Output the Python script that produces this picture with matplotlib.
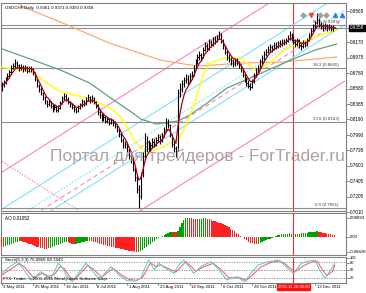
import numpy as np
import pandas as pd
import matplotlib
matplotlib.use("Agg")
import matplotlib.pyplot as plt

plt.rcParams['font.family'] = ['Liberation Sans', 'DejaVu Sans']

# daily USDCHF bars, bar 0 = 3 May 2011
close = [0.8625, 0.8660, 0.8705, 0.8740, 0.8790, 0.8850, 0.8870, 0.8905, 0.8880, 0.8845,
         0.8860, 0.8830, 0.8855, 0.8810, 0.8845, 0.8830, 0.8790, 0.8700, 0.8620, 0.8580,
         0.8520, 0.8470, 0.8420, 0.8385, 0.8410, 0.8360, 0.8330, 0.8350, 0.8310, 0.8340,
         0.8400, 0.8460, 0.8490, 0.8450, 0.8410, 0.8380, 0.8350, 0.8320, 0.8300, 0.8340,
         0.8370, 0.8420, 0.8390, 0.8440, 0.8470, 0.8430, 0.8460, 0.8410, 0.8360, 0.8280,
         0.8250, 0.8200, 0.8220, 0.8170, 0.8190, 0.8150, 0.8180, 0.8140, 0.8110, 0.8060,
         0.8000, 0.7930, 0.7870, 0.7880, 0.7800, 0.7720, 0.7680, 0.7560, 0.7450, 0.7300,
         0.7220, 0.7480, 0.7720, 0.7850, 0.7900, 0.7820, 0.7860, 0.7900, 0.7870, 0.7930,
         0.7960, 0.7920, 0.7990, 0.8050, 0.8150, 0.8120, 0.8000, 0.7880, 0.7820, 0.7790,
         0.8530, 0.8580, 0.8640, 0.8690, 0.8710, 0.8680, 0.8740, 0.8760, 0.8850, 0.8920,
         0.8980, 0.9010, 0.8990, 0.9080, 0.9130, 0.9100, 0.9180, 0.9150, 0.9210, 0.9190,
         0.9240, 0.9270, 0.9190, 0.9120, 0.9050, 0.8990, 0.8960, 0.8930, 0.8900, 0.8940,
         0.8910, 0.8880, 0.8820, 0.8760, 0.8700, 0.8660, 0.8620, 0.8600, 0.8680, 0.8750,
         0.8800, 0.8850, 0.8930, 0.8970, 0.9020, 0.9050, 0.9080, 0.9110, 0.9090, 0.9140,
         0.9120, 0.9160, 0.9150, 0.9190, 0.9170, 0.9200, 0.9220, 0.9270, 0.9220, 0.9180,
         0.9150, 0.9200, 0.9140, 0.9120, 0.9170, 0.9140, 0.9200, 0.9260, 0.9320, 0.9380,
         0.9420, 0.9460, 0.9400, 0.9380, 0.9360, 0.9390, 0.9350, 0.9370, 0.9340, 0.9365,
         0.9358]
high = [0.8665, 0.8690, 0.8735, 0.8775, 0.8820, 0.8880, 0.8910, 0.8960, 0.8935, 0.8900,
        0.8895, 0.8885, 0.8880, 0.8870, 0.8875, 0.8870, 0.8850, 0.8800, 0.8710, 0.8640,
        0.8600, 0.8540, 0.8490, 0.8440, 0.8450, 0.8430, 0.8385, 0.8390, 0.8370, 0.8375,
        0.8430, 0.8490, 0.8530, 0.8510, 0.8470, 0.8430, 0.8400, 0.8370, 0.8350, 0.8370,
        0.8400, 0.8450, 0.8440, 0.8470, 0.8510, 0.8490, 0.8500, 0.8480, 0.8430, 0.8380,
        0.8310, 0.8270, 0.8260, 0.8240, 0.8220, 0.8210, 0.8210, 0.8200, 0.8170, 0.8130,
        0.8080, 0.8020, 0.7950, 0.7920, 0.7900, 0.7820, 0.7750, 0.7700, 0.7580, 0.7470,
        0.7350, 0.7520, 0.7780, 0.8020, 0.7980, 0.7930, 0.7900, 0.7950, 0.7940, 0.7960,
        0.8010, 0.7990, 0.8020, 0.8090, 0.8210, 0.8200, 0.8130, 0.8010, 0.7910, 0.7850,
        0.8580, 0.8650, 0.8690, 0.8730, 0.8770, 0.8750, 0.8780, 0.8810, 0.8880, 0.8960,
        0.9020, 0.9060, 0.9040, 0.9110, 0.9170, 0.9160, 0.9210, 0.9200, 0.9240, 0.9250,
        0.9270, 0.9315, 0.9290, 0.9210, 0.9140, 0.9070, 0.9020, 0.8990, 0.8960, 0.8970,
        0.8970, 0.8940, 0.8900, 0.8840, 0.8780, 0.8730, 0.8690, 0.8660, 0.8710, 0.8780,
        0.8840, 0.8880, 0.8960, 0.9010, 0.9060, 0.9090, 0.9120, 0.9150, 0.9140, 0.9170,
        0.9170, 0.9190, 0.9200, 0.9220, 0.9220, 0.9230, 0.9260, 0.9315, 0.9290, 0.9250,
        0.9210, 0.9230, 0.9210, 0.9170, 0.9200, 0.9190, 0.9230, 0.9290, 0.9350, 0.9410,
        0.9450, 0.9550, 0.9480, 0.9430, 0.9410, 0.9420, 0.9400, 0.9400, 0.9390, 0.9390,
        0.9373]
low = [0.8550, 0.8605, 0.8640, 0.8690, 0.8720, 0.8770, 0.8830, 0.8850, 0.8850, 0.8810,
       0.8820, 0.8800, 0.8810, 0.8785, 0.8790, 0.8800, 0.8760, 0.8680, 0.8600, 0.8540,
       0.8500, 0.8440, 0.8390, 0.8350, 0.8360, 0.8330, 0.8290, 0.8310, 0.8280, 0.8290,
       0.8320, 0.8390, 0.8440, 0.8420, 0.8380, 0.8350, 0.8320, 0.8290, 0.8270, 0.8280,
       0.8320, 0.8350, 0.8360, 0.8370, 0.8420, 0.8400, 0.8410, 0.8380, 0.8330, 0.8250,
       0.8210, 0.8170, 0.8170, 0.8140, 0.8140, 0.8120, 0.8130, 0.8110, 0.8080, 0.8030,
       0.7970, 0.7900, 0.7830, 0.7820, 0.7770, 0.7690, 0.7630, 0.7530, 0.7400, 0.7250,
       0.7067, 0.7180, 0.7450, 0.7690, 0.7780, 0.7770, 0.7790, 0.7830, 0.7840, 0.7850,
       0.7900, 0.7880, 0.7900, 0.7970, 0.8030, 0.8080, 0.7970, 0.7840, 0.7780, 0.7710,
       0.7790, 0.8480, 0.8540, 0.8600, 0.8650, 0.8630, 0.8650, 0.8700, 0.8740, 0.8830,
       0.8890, 0.8950, 0.8940, 0.8970, 0.9060, 0.9060, 0.9080, 0.9110, 0.9130, 0.9150,
       0.9170, 0.9210, 0.9160, 0.9090, 0.9020, 0.8950, 0.8920, 0.8880, 0.8860, 0.8870,
       0.8880, 0.8840, 0.8790, 0.8730, 0.8670, 0.8620, 0.8590, 0.8570, 0.8590, 0.8660,
       0.8730, 0.8780, 0.8830, 0.8900, 0.8950, 0.9000, 0.9030, 0.9050, 0.9050, 0.9070,
       0.9090, 0.9100, 0.9110, 0.9130, 0.9140, 0.9150, 0.9170, 0.9200, 0.9190, 0.9150,
       0.9110, 0.9130, 0.9100, 0.9080, 0.9100, 0.9110, 0.9120, 0.9190, 0.9250, 0.9300,
       0.9360, 0.9400, 0.9370, 0.9340, 0.9310, 0.9340, 0.9320, 0.9330, 0.9310, 0.9320,
       0.9350]

# slower moving averages read as (bar, price) points
yel_bar = [-1, 16, 21, 30, 42, 50, 57, 62, 67, 71, 75, 81, 86, 91, 95, 99, 103, 106, 114, 122, 127, 130, 137, 144, 152, 160, 171]
yel_val = [0.8857, 0.8794, 0.8692, 0.8539, 0.8475, 0.8399, 0.8310, 0.8182, 0.7953, 0.7825, 0.7774, 0.7825, 0.7889,
           0.7966, 0.8157, 0.8437, 0.8755, 0.8908, 0.8972, 0.8972, 0.8870, 0.8819, 0.8908, 0.9074, 0.9163, 0.9239, 0.9329]
grn_bar = [-1, 16, 30, 45, 55, 67, 71, 79, 90, 96, 105, 115, 127, 144, 160, 171]
grn_val = [0.9099, 0.8947, 0.8819, 0.8653, 0.8475, 0.8271, 0.8195, 0.8131, 0.8169, 0.8246, 0.8399, 0.8590,
           0.8717, 0.8908, 0.9074, 0.9150]
org_bar = [7, 11, 30, 55, 81, 93, 101, 122, 144, 171]
org_val = [0.9710, 0.9622, 0.9431, 0.9163, 0.8947, 0.8896, 0.8870, 0.8908, 0.8921, 0.8985]

# channel objects (bar, price anchors)
pink_up = [(0, 0.7515), (140, 0.9727)]
pink_mid = [(0, 0.6712), (175, 0.9477)]
pink_low = [(0, 0.5909), (175, 0.8674)]
cyan_1 = [(0, 0.7044), (175, 0.9809)]
cyan_mid = [(0, 0.6815), (175, 0.9580)]
cyan_2 = [(0, 0.6628), (175, 0.9393)]
handle = [(-1, 0.7673), (39, 0.7036)]

fib_levels = [0.7061, 0.8163, 0.8845, 0.9397]
fib_names = ['0.0 (0.7061)', '23.6 (0.8163)', '38.2 (0.8845)', '50.0 (0.9397)']
bid = 0.9358

ao = [-0.040, -0.045, -0.042, -0.038, -0.034, -0.030, -0.026, -0.022, -0.020, -0.018,
      -0.019, -0.021, -0.024, -0.027, -0.030, -0.033, -0.036, -0.040, -0.044, -0.047,
      -0.050, -0.052, -0.053, -0.054, -0.052, -0.049, -0.046, -0.042, -0.038, -0.034,
      -0.030, -0.027, -0.024, -0.022, -0.024, -0.027, -0.030, -0.032, -0.030, -0.028,
      -0.026, -0.024, -0.021, -0.019, -0.017, -0.016, -0.018, -0.021, -0.024, -0.027,
      -0.030, -0.033, -0.036, -0.038, -0.040, -0.042, -0.044, -0.046, -0.048, -0.050,
      -0.052, -0.054, -0.056, -0.058, -0.060, -0.062, -0.064, -0.066, -0.068, -0.0683,
      -0.067, -0.064, -0.058, -0.051, -0.044, -0.037, -0.030, -0.023, -0.016, -0.010,
      -0.004, 0.001, 0.006, 0.011, 0.016, 0.021, 0.025, 0.026, 0.024, 0.023,
      0.030, 0.046, 0.065, 0.080, 0.087, 0.089, 0.0889, 0.087, 0.085, 0.084,
      0.083, 0.084, 0.086, 0.087, 0.0875, 0.085, 0.082, 0.079, 0.076, 0.073,
      0.070, 0.067, 0.064, 0.060, 0.055, 0.050, 0.045, 0.040, 0.034, 0.028,
      0.021, 0.014, 0.007, 0.000, -0.008, -0.015, -0.021, -0.026, -0.029, -0.031,
      -0.032, -0.030, -0.027, -0.023, -0.019, -0.014, -0.010, -0.006, -0.002, 0.002,
      0.006, 0.009, 0.012, 0.014, 0.015, 0.016, 0.017, 0.018, 0.017, 0.016,
      0.017, 0.016, 0.017, 0.018, 0.019, 0.020, 0.021, 0.022, 0.024, 0.025,
      0.026, 0.027, 0.025, 0.023, 0.021, 0.019, 0.017, 0.015, 0.013, 0.012,
      0.0105]

# stochastic main and signal lines, read as (bar, value) points
k_bar = [0, 4, 8, 11, 15, 17, 20, 22, 25, 27, 29, 31, 33, 36, 39, 43, 46, 50, 53, 56, 60, 64, 68, 71, 73,
         75, 78, 80, 84, 88, 90, 93, 96, 98, 102, 107, 111, 115, 118, 120, 124, 127, 131, 136, 141, 144,
         146, 149, 153, 157, 160, 162, 165, 168, 170]
k_val = [37, 62, 82, 55, 12, 20, 44, 30, 18, 45, 76, 60, 30, 5, 35, 76, 50, 12, 40, 63, 30, 9, 8, 18, 55,
         88, 50, 76, 55, 37, 65, 88, 60, 37, 65, 82, 50, 12, 20, 24, 5, 35, 69, 82, 88, 72,
         56, 37, 76, 85, 88, 55, 18, 50, 76]
d_bar = [0, 5, 9, 12, 16, 19, 21, 24, 27, 30, 32, 35, 37, 40, 44, 47, 51, 54, 57, 61, 65, 69, 72, 74,
         76, 79, 81, 85, 89, 91, 94, 97, 99, 103, 108, 112, 116, 119, 121, 125, 128, 132, 137, 142, 145,
         147, 150, 154, 158, 161, 163, 166, 169, 170]
d_val = [30, 55, 75, 60, 22, 30, 38, 26, 33, 64, 55, 22, 12, 35, 68, 52, 22, 40, 56, 32, 14, 10, 22, 50,
         78, 62, 70, 56, 42, 58, 82, 62, 45, 62, 76, 52, 20, 20, 22, 10, 30, 60, 78, 85, 72,
         58, 44, 66, 80, 84, 60, 28, 45, 68]

date_pos = [0, 16, 32, 48, 64, 80, 96, 112, 128, 160]
date_txt = ['3 May 2011', '25 May 2011', '16 Jun 2011', '8 Jul 2011', '1 Aug 2011', '23 Aug 2011',
            '14 Sep 2011', '6 Oct 2011', '28 Oct 2011', '13 Dec 2011']
price_ticks = [0.9565, 0.9170, 0.8975, 0.8780, 0.8580, 0.8385, 0.8190, 0.7990, 0.7795, 0.7600,
               0.7405, 0.7205, 0.7010]
cross_bar = 149

W, H = 366, 293
fig = plt.figure(figsize=(W / 100, H / 100), dpi=100)


def box(top, bottom, left=1, right=346):
    return [left / W, 1 - bottom / H, (right - left) / W, (bottom - top) / H]


ax = fig.add_axes(box(3, 211))
ax_ao = fig.add_axes(box(213, 255))
ax_st = fig.add_axes(box(257, 283))
for a in (ax, ax_ao, ax_st):
    a.set_xlim(-0.3, 175.8)
    a.set_xticks([])
    a.set_yticks([])
    for s in a.spines.values():
        s.set_color('#808080')
        s.set_linewidth(0.8)
    a.axvline(cross_bar, color='#e03030', lw=0.8, zorder=1)

ax.set_ylim(0.7023, 0.9673)
idx = np.arange(len(close))

# channel and fibo objects
for ln, c, ls in [(pink_up, '#ff80c0', '-'), (pink_low, '#ff80c0', '-'), (pink_mid, '#ff80c0', (0, (4, 3))),
                  (cyan_1, '#80e0ff', '-'), (cyan_mid, '#80e0ff', (0, (1.5, 1.5))), (cyan_2, '#80e0ff', '-'),
                  (handle, '#ff6080', ':')]:
    ax.plot([ln[0][0], ln[1][0]], [ln[0][1], ln[1][1]], color=c, lw=0.8, ls=ls, zorder=1)
for lv, nm in zip(fib_levels, fib_names):
    ax.axhline(lv, color='#909090', lw=0.8, zorder=1)
    ax.text(172, lv + 0.0008, nm, fontsize=3.2, ha='right', va='bottom', color='#404040')
ax.axhline(bid, color='#909090', lw=0.8, zorder=1)

# moving averages
ax.plot(org_bar, org_val, color='#ffa060', lw=0.8, zorder=2)
ax.plot(grn_bar, grn_val, color='#60a080', lw=0.9, zorder=2)
ax.plot(yel_bar, yel_val, color='#ffff00', lw=1.0, zorder=3)
red = pd.Series(close).ewm(span=5, adjust=False).mean()
ax.plot(idx, red, color='#b00018', lw=0.9, zorder=5)

# OHLC bars
ax.vlines(idx, low, high, color='black', lw=0.8, zorder=4)
ax.hlines(close, idx, idx + 0.6, color='black', lw=0.6, zorder=4)

# arrows at the top right
ax.scatter([154, 162.5, 165.6], [0.952] * 3, marker='D', s=6, color='#a0a0a0', zorder=6)
ax.scatter([158], [0.952], marker='v', s=8, color='#ff4020', zorder=6)
ax.scatter([170.2, 173.7], [0.952] * 2, marker='^', s=8, color='#2080ff', zorder=6)

ax.text(0.012, 0.985, 'USDCHF,Daily  0.9361 0.9373 0.9350 0.9358', transform=ax.transAxes,
        fontsize=3.2, va='top', color='black')


def right_label(a, v, t, fs=3.3, **kw):
    a.plot([1.0, 1.008], [v, v], transform=a.get_yaxis_transform(), color='#606060', lw=0.5, clip_on=False)
    a.text(1.012, v, t, transform=a.get_yaxis_transform(), fontsize=fs, va='center', ha='left',
           clip_on=False, **kw)


for v in price_ticks:
    right_label(ax, v, f'{v:.4f}')
right_label(ax, bid, f'{bid:.4f}', color='white',
            bbox=dict(boxstyle='square,pad=0.15', fc='black', ec='black'))

fig.text(50 / W, 1 - 156 / H, 'Портал для трейдеров - ForTrader.ru', fontsize=12.5,
         color='#a89898', va='center', ha='left', alpha=0.9, zorder=10)

# AO
ao_arr = np.array(ao)
ao_col = ['#00a000' if i > 0 and ao_arr[i] >= ao_arr[i - 1] else '#ff2020' for i in range(len(ao_arr))]
ax_ao.bar(idx, ao_arr, width=0.7, color=ao_col, zorder=3)
ax_ao.set_ylim(-0.0822, 0.112)
ax_ao.text(0.012, 0.93, 'AO 0.01052', transform=ax_ao.transAxes, fontsize=3.3, va='top')
for v, t in [(0.08893, '0.08893'), (0.0, '0.00'), (-0.06828, '-0.06828')]:
    right_label(ax_ao, v, t, fs=3.1)

# Stochastic
ax_st.set_ylim(0, 100)
for lv in (20, 50, 80):
    ax_st.axhline(lv, color='#808080', lw=0.6, ls=(0, (1.5, 1.5)), zorder=1)
ax_st.plot(d_bar, d_val, color='#ff6070', lw=0.8, zorder=3)
ax_st.plot(k_bar, k_val, color='#60d0d0', lw=0.8, zorder=3)
ax_st.text(0.012, 0.95, 'Stoch(5,3,3) 76.0866 68.7443', transform=ax_st.transAxes, fontsize=3.2, va='top')
ax_st.text(0.005, 0.08, 'FTX: Trader, © 2001-2011 MetaQuotes Software Corp.', transform=ax_st.transAxes,
           fontsize=3.2, va='bottom')
for v, t in ((96, '100'), (78, '80'), (50, '50'), (20, '20')):
    right_label(ax_st, v, t, fs=2.9)

# dates
for p, t in zip(date_pos, date_txt):
    ax_st.plot([p, p], [0, -6], color='#606060', lw=0.5, clip_on=False)
    ax_st.text(p + 0.8, -9, t, fontsize=3.1, va='top', ha='left', clip_on=False)
ax_st.text(cross_bar, -9, '2011.11.28 00:00', fontsize=3.1, va='top', ha='center', color='white',
           clip_on=False, bbox=dict(boxstyle='square,pad=0.2', fc='#ff1010', ec='#ff1010'))

fig.savefig('out.png', dpi=100)
